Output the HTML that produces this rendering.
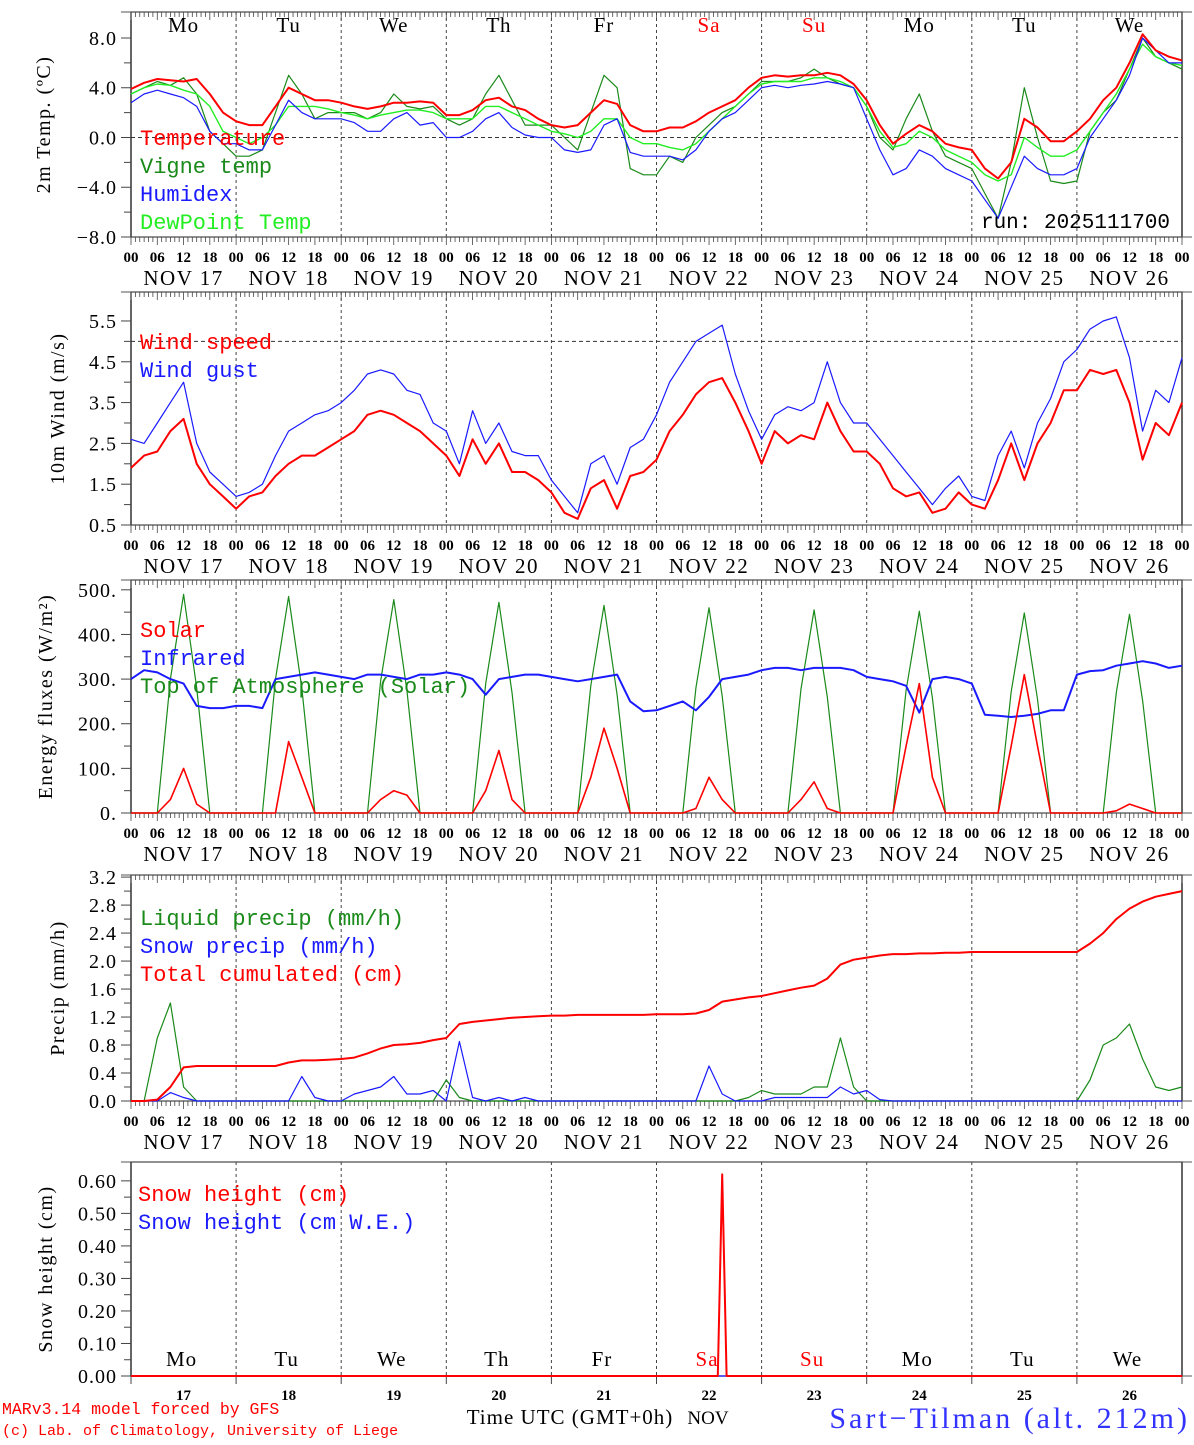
<!DOCTYPE html>
<html><head><meta charset="utf-8"><style>
html,body{margin:0;padding:0;background:#fff}
svg text{font-family:"Liberation Serif",serif}
svg text.mono{font-family:"Liberation Mono",monospace}
</style></head><body>
<svg id="c" width="1194" height="1440" viewBox="0 0 1194 1440" xmlns="http://www.w3.org/2000/svg"></svg>
<script>
// ---- data (3-hourly from NOV 17 00h, 81 points) ----
const days=['17','18','19','20','21','22','23','24','25','26'];
const dows=['Mo','Tu','We','Th','Fr','Sa','Su','Mo','Tu','We'];
const tempT=[3.9,4.4,4.7,4.6,4.5,4.7,3.5,2.0, 1.3,1.0,1.0,2.5,4.0,3.5,3.0,3.0, 2.8,2.5,2.3,2.5,2.8,2.8,2.9,2.8, 1.8,1.8,2.2,3.0,3.2,2.5,2.2,1.5, 1.0,0.8,1.0,2.0,3.0,2.7,1.0,0.5, 0.5,0.8,0.8,1.3,2.0,2.5,3.0,4.0, 4.8,5.0,4.9,5.0,5.0,5.2,5.0,4.3, 3.0,1.0,-0.5,0.3,1.0,0.5,-0.5,-0.8, -1.0,-2.5,-3.3,-2.0,1.5,0.8,-0.3,-0.3, 0.5,1.5,3.0,4.0,6.0,8.3,7.0,6.5, 6.2];
const tempV=[3.5,4.0,4.5,4.2,4.8,3.5,0.5,-0.5, -1.5,-1.5,-1.0,2.0,5.0,3.5,1.5,2.0, 2.0,2.0,1.5,2.0,3.5,2.5,2.3,2.5, 1.5,1.0,1.5,3.5,5.0,3.0,1.0,1.0, 1.0,0.0,-1.0,2.0,5.0,4.0,-2.5,-3.0, -3.0,-1.5,-2.0,0.0,1.0,2.0,2.5,3.5, 4.5,4.5,4.5,4.8,5.5,4.8,4.3,4.0, 2.5,0.0,-1.0,1.5,3.5,0.5,-1.5,-2.0, -2.5,-4.5,-6.5,-2.0,4.0,0.0,-3.5,-3.7, -3.5,0.5,2.0,3.0,5.5,8.0,6.5,6.0, 5.5];
const tempH=[2.8,3.5,3.8,3.5,3.2,2.5,0.5,-0.5, -0.5,-1.0,-1.0,1.0,3.0,2.0,1.5,1.5, 1.5,1.2,0.5,0.5,1.5,2.0,1.0,1.2, 0.0,0.0,0.5,1.5,2.0,0.8,0.2,0.0, 0.0,-1.0,-1.2,-1.0,1.0,1.5,-1.2,-1.5, -1.5,-1.5,-1.8,-1.0,0.5,1.5,2.0,3.0, 4.0,4.2,4.0,4.2,4.3,4.5,4.3,4.0, 1.5,-1.0,-3.0,-2.5,-1.0,-1.5,-2.5,-3.0, -3.5,-5.0,-6.5,-4.0,-1.5,-2.5,-3.0,-3.0, -2.5,0.0,1.5,3.0,5.0,8.0,7.0,6.0, 6.0];
const tempD=[3.5,4.0,4.3,4.2,3.8,3.5,2.5,0.5, 0.0,-0.5,0.0,1.0,2.5,2.5,2.5,2.3, 2.0,1.8,1.5,1.8,2.0,2.2,2.2,2.0, 1.5,1.5,1.5,2.5,2.5,2.0,1.5,1.0, 0.5,0.3,0.0,0.5,1.5,1.5,0.0,-0.5, -0.5,-0.8,-1.0,-0.5,0.5,1.5,2.5,3.5, 4.3,4.5,4.5,4.5,4.8,4.8,4.5,4.0, 2.5,0.5,-0.8,-0.5,0.5,0.0,-1.0,-1.5, -2.0,-3.0,-3.5,-3.0,0.0,-0.8,-1.5,-1.5, -1.0,0.5,2.0,3.5,5.5,7.5,6.5,6.0, 5.8];
const windS=[1.9,2.2,2.3,2.8,3.1,2.0,1.5,1.2, 0.9,1.2,1.3,1.7,2.0,2.2,2.2,2.4, 2.6,2.8,3.2,3.3,3.2,3.0,2.8,2.5, 2.2,1.7,2.6,2.0,2.5,1.8,1.8,1.6, 1.3,0.8,0.65,1.4,1.6,0.9,1.7,1.8, 2.1,2.8,3.2,3.7,4.0,4.1,3.5,2.8, 2.0,2.8,2.5,2.7,2.6,3.5,2.8,2.3, 2.3,2.0,1.4,1.2,1.3,0.8,0.9,1.3, 1.0,0.9,1.6,2.5,1.6,2.5,3.0,3.8, 3.8,4.3,4.2,4.3,3.5,2.1,3.0,2.7, 3.5];
const windG=[2.6,2.5,3.0,3.5,4.0,2.5,1.8,1.5, 1.2,1.3,1.5,2.2,2.8,3.0,3.2,3.3, 3.5,3.8,4.2,4.3,4.2,3.8,3.7,3.0, 2.8,2.0,3.3,2.5,3.0,2.3,2.2,2.2, 1.6,1.2,0.8,2.0,2.2,1.5,2.4,2.6, 3.2,4.0,4.5,5.0,5.2,5.4,4.2,3.3, 2.6,3.2,3.4,3.3,3.5,4.5,3.5,3.0, 3.0,2.6,2.2,1.8,1.4,1.0,1.4,1.7, 1.2,1.1,2.2,2.8,1.9,3.0,3.6,4.5, 4.8,5.3,5.5,5.6,4.6,2.8,3.8,3.5, 4.6];
const solar=[0,0,0,30,100,20,0,0, 0,0,0,0,160,80,0,0, 0,0,0,30,50,40,0,0, 0,0,0,50,140,30,0,0, 0,0,0,80,190,100,0,0, 0,0,0,10,80,30,0,0, 0,0,0,30,70,10,0,0, 0,0,0,150,290,80,0,0, 0,0,0,150,310,150,0,0, 0,0,0,5,20,10,0,0, 0];
const infra=[300,320,315,300,290,240,235,235, 240,240,235,300,305,310,315,310, 305,300,310,310,305,300,310,310, 315,310,300,265,300,305,310,310, 305,300,295,300,305,310,250,228, 230,240,250,230,260,300,305,310, 320,325,325,320,325,325,325,320, 305,300,295,285,225,300,305,300, 290,220,218,215,218,222,230,230, 310,318,320,330,335,340,335,325, 330];
const toa=[0,0,0,300,490,280,0,0, 0,0,0,300,485,280,0,0, 0,0,0,295,478,275,0,0, 0,0,0,290,472,270,0,0, 0,0,0,285,465,265,0,0, 0,0,0,280,460,262,0,0, 0,0,0,278,455,260,0,0, 0,0,0,275,452,258,0,0, 0,0,0,272,448,255,0,0, 0,0,0,270,445,252,0,0, 0];
const liq=[0,0,0.9,1.4,0.2,0,0,0, 0,0,0,0,0,0,0,0, 0,0,0,0,0,0,0,0, 0.3,0.05,0,0,0,0,0,0, 0,0,0,0,0,0,0,0, 0,0,0,0,0,0,0,0.05, 0.15,0.1,0.1,0.1,0.2,0.2,0.9,0.2, 0,0,0,0,0,0,0,0, 0,0,0,0,0,0,0,0, 0,0.3,0.8,0.9,1.1,0.6,0.2,0.15, 0.2];
const snowP=[0,0,0,0.12,0.05,0,0,0, 0,0,0,0,0,0.35,0.05,0, 0,0.1,0.15,0.2,0.35,0.1,0.1,0.15, 0,0.85,0.05,0,0.05,0,0.05,0, 0,0,0,0,0,0,0,0, 0,0,0,0,0.5,0.1,0,0, 0,0.05,0.05,0.05,0.05,0.05,0.2,0.1, 0.15,0.02,0,0,0,0,0,0, 0,0,0,0,0,0,0,0, 0,0,0,0,0,0,0,0, 0];
const cumul=[0,0,0.02,0.2,0.48,0.5,0.5,0.5, 0.5,0.5,0.5,0.5,0.55,0.58,0.58,0.59, 0.6,0.62,0.68,0.75,0.8,0.81,0.83,0.87, 0.9,1.1,1.13,1.15,1.17,1.19,1.2,1.21, 1.22,1.22,1.23,1.23,1.23,1.23,1.23,1.23, 1.24,1.24,1.24,1.25,1.3,1.42,1.45,1.48, 1.5,1.54,1.58,1.62,1.65,1.75,1.95,2.02, 2.05,2.08,2.1,2.1,2.11,2.11,2.12,2.12, 2.13,2.13,2.13,2.13,2.13,2.13,2.13,2.13, 2.13,2.25,2.4,2.6,2.75,2.85,2.92,2.96, 3.0];
const snowHours=[0,134,135,136,240];
const snowH=[0,0,0.62,0,0];
const snowWE=[0,0,0,0,0];
// ---- layout ----
const X0=131,X1=1182;
const svg=document.getElementById('c');
const NS='http://www.w3.org/2000/svg';
function el(tag,attrs,parent){const e=document.createElementNS(NS,tag);for(const k in attrs)e.setAttribute(k,attrs[k]);(parent||svg).appendChild(e);return e;}
function xs(h){return X0+(X1-X0)*h/240;}
function txt(x,y,s,attrs,name){const t=el('text',Object.assign({x:x,y:y},attrs));t.textContent=s;


return t;}
function panel(p){
  const g=el('g',{});
  
  
  p.ys=v=>p.bot-(v-p.ymin)/(p.ymax-p.ymin)*(p.bot-p.top);
  el('rect',{x:X0,y:p.top,width:X1-X0,height:p.bot-p.top,fill:'none',stroke:'#000','stroke-width':1.2},g);
  el('line',{x1:X0-10,y1:p.top,x2:X1+10,y2:p.top,stroke:'#555'},g);
  el('line',{x1:X0-10,y1:p.bot,x2:X1+10,y2:p.bot,stroke:'#555'},g);
  for(let d=1;d<10;d++){el('line',{x1:xs(d*24),y1:p.top,x2:xs(d*24),y2:p.bot,stroke:'#444','stroke-dasharray':'3,3'},g);}
  if(p.hourTicks){
    for(let h=0;h<=240;h++){const L=h%6==0?8:5;
      el('line',{x1:xs(h),y1:p.top,x2:xs(h),y2:p.top+L,stroke:'#444','stroke-width':0.8},g);
      el('line',{x1:xs(h),y1:p.bot,x2:xs(h),y2:p.bot+L,stroke:'#444','stroke-width':0.8},g);}
    for(let h=0;h<=240;h+=6){txt(xs(h),p.bot+25,String(h%24).padStart(2,'0'),{'font-size':15,'text-anchor':'middle','font-weight':'bold'},'hour-tick-label');}
    for(let d=0;d<10;d++){txt(xs(d*24+12),p.bot+48,'NOV '+days[d],{'font-size':21,'text-anchor':'middle','letter-spacing':'1.5'},'date-label');}
  }
  p.ticks.forEach((v,i)=>{const y=p.ys(v);el('line',{x1:X0-10,y1:y,x2:X0,y2:y,stroke:'#444'},g);
    txt(X0-14,y+7,p.tlab[i],{'font-size':20,'text-anchor':'end','letter-spacing':'1'},'y-tick-label');});
  (p.minor||[]).forEach(v=>{const y=p.ys(v);el('line',{x1:X0-7,y1:y,x2:X0,y2:y,stroke:'#444'},g);});
  const cy=(p.top+p.bot)/2;
  txt(0,0,p.title,{'font-size':20,'text-anchor':'middle','letter-spacing':'1.5',transform:`translate(${p.tx},${cy}) rotate(-90)`},'y-axis-title');
  if(p.ref!==undefined){el('line',{x1:X0,y1:p.ys(p.ref),x2:X1,y2:p.ys(p.ref),stroke:'#333','stroke-dasharray':'4,3'},g);}
  return g;
}
function series(p,hours,vals,color,w,name){
  const pts=vals.map((v,i)=>xs(hours?hours[i]:i*3).toFixed(1)+','+p.ys(v).toFixed(1)).join(' ');
  const e=el('polyline',{points:pts,fill:'none',stroke:color,'stroke-width':w,'stroke-linejoin':'round'});
  
  
}
function legend(items,x,y0,dy){items.forEach((it,i)=>{txt(x,y0+i*dy,it[0],{'font-size':22,fill:it[1],'class':'mono'},'legend-entry');});}

const P1={name:'temperature-panel',top:12,bot:237,ymin:-8,ymax:10.09,ticks:[8,4,0,-4,-8],tlab:['8.0','4.0','0.0','\u22124.0','\u22128.0'],minor:[6,2,-2,-6],title:'2m Temp. (\u00baC)',tx:50,hourTicks:true,ref:0};
panel(P1);
for(let d=0;d<10;d++){txt(xs(d*24+12),32,dows[d],{'font-size':21,'text-anchor':'middle','letter-spacing':'1',fill:(d==5||d==6)?'#f00':'#000'},'weekday-label');}
series(P1,null,tempV,'#1a8a1a',1.2,'vigne-temp-line');
series(P1,null,tempD,'#22ee22',1.4,'dewpoint-line');
series(P1,null,tempH,'#1a1aff',1.2,'humidex-line');
series(P1,null,tempT,'#ff0000',2,'temperature-line');
legend([['Temperature','#f00'],['Vigne temp','#1a8a1a'],['Humidex','#1a1aff'],['DewPoint Temp','#22ee22']],140,145,28);
txt(1170,228,'run: 2025111700',{'font-size':21,'text-anchor':'end','class':'mono'},'run-label');

const P2={name:'wind-panel',top:292,bot:525,ymin:0.5,ymax:6.21,ticks:[5.5,4.5,3.5,2.5,1.5,0.5],tlab:['5.5','4.5','3.5','2.5','1.5','0.5'],minor:[5,4,3,2,1],title:'10m Wind (m/s)',tx:64,hourTicks:true,ref:5};
panel(P2);
series(P2,null,windG,'#1a1aff',1.2,'wind-gust-line');
series(P2,null,windS,'#ff0000',2,'wind-speed-line');
legend([['Wind speed','#f00'],['Wind gust','#1a1aff']],140,349,28);

const P3={name:'energy-panel',top:580,bot:813,ymin:0,ymax:522,ticks:[500,400,300,200,100,0],tlab:['500.','400.','300.','200.','100.','0.'],minor:[450,350,250,150,50],title:'Energy fluxes (W/m\u00b2)',tx:52,hourTicks:true};
panel(P3);
series(P3,null,toa,'#1a8a1a',1.2,'toa-solar-line');
series(P3,null,infra,'#1a1aff',2,'infrared-line');
series(P3,null,solar,'#ff0000',1.6,'solar-line');
legend([['Solar','#f00'],['Infrared','#1a1aff'],['Top of Atmosphere (Solar)','#1a8a1a']],140,637,28);

const P4={name:'precip-panel',top:875,bot:1101,ymin:0,ymax:3.23,ticks:[3.2,2.8,2.4,2.0,1.6,1.2,0.8,0.4,0.0],tlab:['3.2','2.8','2.4','2.0','1.6','1.2','0.8','0.4','0.0'],minor:[3.0,2.6,2.2,1.8,1.4,1.0,0.6,0.2],title:'Precip (mm/h)',tx:64,hourTicks:true};
panel(P4);
series(P4,null,liq,'#1a8a1a',1.2,'liquid-precip-line');
series(P4,null,snowP,'#1a1aff',1.2,'snow-precip-line');
series(P4,null,cumul,'#ff0000',2,'cumulated-precip-line');
legend([['Liquid precip (mm/h)','#1a8a1a'],['Snow precip (mm/h)','#1a1aff'],['Total cumulated (cm)','#f00']],140,925,28);

const P5={name:'snow-panel',top:1162,bot:1376,ymin:0,ymax:0.658,ticks:[0.6,0.5,0.4,0.3,0.2,0.1,0],tlab:['0.60','0.50','0.40','0.30','0.20','0.10','0.00'],minor:[0.55,0.45,0.35,0.25,0.15,0.05],title:'Snow height (cm)',tx:52,hourTicks:false};
panel(P5);
for(let d=0;d<=10;d++){el('line',{x1:xs(d*24),y1:P5.bot,x2:xs(d*24),y2:P5.bot+8,stroke:'#444'});}
for(let d=0;d<10;d++){txt(xs(d*24+12)-2,1366,dows[d],{'font-size':21,'text-anchor':'middle','letter-spacing':'1',fill:(d==5||d==6)?'#f00':'#000'},'weekday-label');
 txt(xs(d*24+12),1400,days[d],{'font-size':15,'text-anchor':'middle','font-weight':'bold'},'day-number');}
series(P5,snowHours,snowWE,'#1a1aff',1.2,'snow-we-line');
series(P5,snowHours,snowH,'#ff0000',2,'snow-height-line');
legend([['Snow height (cm)','#f00'],['Snow height (cm W.E.)','#1a1aff']],138,1201,28);

txt(570,1424,'Time UTC (GMT+0h)',{'font-size':21,'text-anchor':'middle','letter-spacing':'1'},'x-axis-title');
txt(708,1424,'NOV',{'font-size':19,'text-anchor':'middle'},'month-label');
txt(2,1414,'MARv3.14 model forced by GFS',{'font-size':16.5,fill:'#f00','class':'mono'},'model-credit');
txt(2,1435,'(c) Lab. of Climatology, University of Liege',{'font-size':15,fill:'#f00','class':'mono'},'lab-credit');
txt(1190,1428,'Sart\u2212Tilman (alt. 212m)',{'font-size':30,fill:'#3333ff','text-anchor':'end','letter-spacing':'3'},'station-title');
</script>
</body></html>
